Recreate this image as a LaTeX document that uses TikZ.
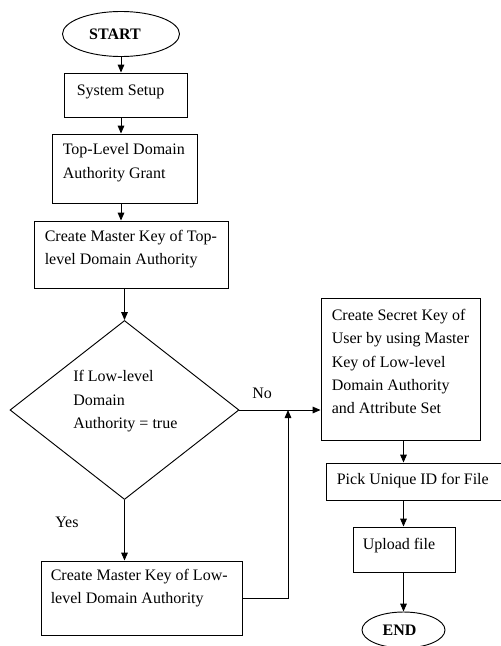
\documentclass[tikz,border=0pt]{standalone}
\usepackage{fontspec}
\setmainfont{Liberation Serif}
\usetikzlibrary{shapes.geometric,arrows.meta}
\tikzset{
  box/.style={draw, line width=0.7pt, inner sep=0pt},
  txt/.style={anchor=north west, inner sep=0pt, align=left},
  term/.style={draw, ellipse, line width=0.7pt, inner sep=0pt, font=\fontsize{12}{17.6}\selectfont\bfseries},
  line/.style={line width=0.7pt, ->},
}
\begin{document}
\begin{tikzpicture}[x=0.75pt, y=-0.75pt, >={Triangle[length=6pt,width=5pt]},
  font=\fontsize{12}{17.6}\selectfont]
\useasboundingbox (0,0) rectangle (500,646);
%开始和左边一列
\node[term, minimum width=87.75pt, minimum height=33.75pt] (start) at (121,34) {START\hspace*{9pt}};
\node[box, minimum width=92.25pt, minimum height=33pt] (setup) at (125.5,95) {};
\node[txt] at ([shift={(13,12)}]setup.north west) {System Setup};
\node[box, minimum width=108.75pt, minimum height=51.75pt] (grant) at (124.5,168.5) {};
\node[txt] at ([shift={(11,10)}]grant.north west) {Top-Level Domain\\Authority Grant};
\node[box, minimum width=145.5pt, minimum height=50.25pt] (mtop) at (131,254.5) {};
\node[txt] at ([shift={(11,9)}]mtop.north west) {Create Master Key of Top-\\level Domain Authority};
%判断
\node[draw, diamond, line width=0.7pt, inner sep=0pt, minimum width=171.75pt, minimum height=134.25pt] (dec) at (124.5,410) {};
\node[txt] at ([shift={(-51.5,-40)}]dec.center) {If Low-level\\Domain\\Authority = true};
\node[box, minimum width=150.75pt, minimum height=55.5pt] (low) at (141.5,598) {};
\node[txt] at ([shift={(10,8)}]low.north west) {Create Master Key of Low-\\level Domain Authority};
%右边一列
\node[box, minimum width=119.25pt, minimum height=106.5pt] (secret) at (400.5,369) {};
\node[txt] at ([shift={(11,11)}]secret.north west) {Create Secret Key of\\User by using Master\\Key of Low-level\\Domain Authority\\and Attribute Set};
\node[box, minimum width=132pt, minimum height=27.75pt] (pick) at (414,481.5) {};
\node[txt] at ([shift={(11,10)}]pick.north west) {Pick Unique ID for File};
\node[box, minimum width=76.5pt, minimum height=33.75pt] (upload) at (404,549.5) {};
\node[txt] at ([shift={(10,11)}]upload.north west) {Upload file};
\node[term, minimum width=62.25pt, minimum height=27pt] (end) at (403.5,630) {END\hspace*{6pt}};
\coordinate (join) at (288,410);
\node[anchor=base west, inner sep=0pt] (no) at (252,398) {No};
\node[anchor=base west, inner sep=0pt] (yes) at (55,527) {Yes};
%箭头
\draw[line] (start.south) -- (start.south |- setup.north);
\draw[line] (setup.south -| start) -- (grant.north -| start);
\draw[line] (grant.south -| start) -- (mtop.north -| start);
\draw[line] (mtop.south -| dec) -- (dec.north);
\draw[line] (dec.south) -- (dec.south |- low.north);
\draw[line] (dec.east) -- (dec.east -| secret.west);
\draw[line] (low.east) -| (join);
\draw[line] (secret.south -| end) -- (pick.north -| end);
\draw[line] (pick.south -| end) -- (upload.north -| end);
\draw[line] (upload.south -| end) -- (end.north);
\end{tikzpicture}
\end{document}
